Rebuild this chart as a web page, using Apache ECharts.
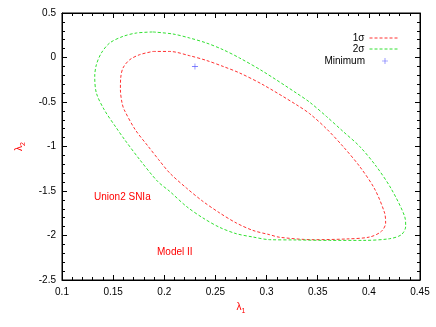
<!DOCTYPE html>
<html>
<head>
<meta charset="utf-8">
<script src="https://cdn.jsdelivr.net/npm/echarts@6/dist/echarts.min.js"></script>
<style>
  html, body { margin: 0; padding: 0; background: #fff; }
  #chart { width: 436px; height: 327px; }
</style>
</head>
<body>
<div id="chart"></div>
<script>
// contour points [lambda1, lambda2]
var sigma1 = [
  [0.1889, 0.068], [0.2053, 0.068], [0.2248, 0.020], [0.2412, -0.033], [0.2574, -0.100],
  [0.2737, -0.174], [0.2965, -0.306], [0.3291, -0.530], [0.3421, -0.631], [0.3585, -0.800],
  [0.3747, -0.999], [0.3910, -1.224], [0.4057, -1.478], [0.4154, -1.747], [0.4164, -1.860],
  [0.4122, -1.954], [0.4008, -2.017], [0.3780, -2.039], [0.3454, -2.047], [0.3128, -2.020],
  [0.3030, -1.991], [0.2867, -1.943], [0.2705, -1.860], [0.2542, -1.747], [0.2378, -1.617],
  [0.2216, -1.466], [0.2053, -1.298], [0.1945, -1.148], [0.1843, -0.999], [0.1716, -0.811],
  [0.1608, -0.587], [0.1587, -0.511], [0.1571, -0.362], [0.1574, -0.230], [0.1596, -0.118],
  [0.1662, -0.025], [0.1760, 0.032], [0.1889, 0.068]
];
var sigma2 = [
  [0.1889, 0.287], [0.2085, 0.264], [0.2248, 0.219], [0.2412, 0.163], [0.2574, 0.088],
  [0.2737, -0.006], [0.2965, -0.156], [0.3291, -0.399], [0.3421, -0.502], [0.3585, -0.662],
  [0.3747, -0.830], [0.3910, -0.999], [0.4073, -1.224], [0.4220, -1.478], [0.4350, -1.785],
  [0.4360, -1.898], [0.4318, -1.991], [0.4203, -2.036], [0.3942, -2.055], [0.3617, -2.055],
  [0.3291, -2.050], [0.3030, -2.047], [0.2867, -2.017], [0.2705, -1.980], [0.2542, -1.909],
  [0.2378, -1.803], [0.2216, -1.673], [0.2053, -1.504], [0.1935, -1.392], [0.1760, -1.148],
  [0.1613, -0.924], [0.1532, -0.792], [0.1413, -0.587], [0.1336, -0.399], [0.1320, -0.212],
  [0.1336, -0.081], [0.1385, 0.051], [0.1466, 0.163], [0.1596, 0.237], [0.1727, 0.275],
  [0.1889, 0.287]
];
var minimum = [[0.23, -0.1]];

var xRange = [0.1, 0.45];
var yRange = [-2.5, 0.5];

var font = 'Liberation Sans, Arial, sans-serif';
var plusIcon = 'path://M4.5,0h1v4.5h4.5v1h-4.5v4.5h-1v-4.5h-4.5v-1h4.5z';

function axisBase(extra) {
  var a = {
    type: 'value',
    axisLine: { show: true, onZero: false, lineStyle: { color: '#000', width: 1 } },
    axisTick: { show: true, inside: true, length: 5, lineStyle: { color: '#000' } },
    minorTick: { show: true, splitNumber: 5, length: 3, lineStyle: { color: '#000' } },
    splitLine: { show: false },
    axisLabel: { color: '#000', fontSize: 10, fontFamily: font }
  };
  for (var k in extra) a[k] = extra[k];
  return a;
}

var legendText = { fontSize: 10, color: '#000', fontFamily: font };

var chart = echarts.init(document.getElementById('chart'));
chart.setOption({
  animation: false,
  textStyle: { fontFamily: font },
  grid: { left: 62, right: 16, top: 13, bottom: 47, show: true, borderColor: '#000', borderWidth: 1 },
  xAxis: [
    axisBase({
      min: xRange[0], max: xRange[1], interval: 0.05,
      axisLabel: { color: '#000', fontSize: 10, fontFamily: font, margin: 7 },
      name: '{a|λ}{b|1}', nameLocation: 'middle', nameGap: 20,
      nameTextStyle: { rich: { a: { color: '#f00', fontSize: 10 }, b: { color: '#f00', fontSize: 7, padding: [8, 0, 0, 0] } } }
    }),
    axisBase({ min: xRange[0], max: xRange[1], interval: 0.05, position: 'top', axisLabel: { show: false } })
  ],
  yAxis: [
    axisBase({
      min: yRange[0], max: yRange[1], interval: 0.5,
      axisLabel: { color: '#000', fontSize: 10, fontFamily: font, margin: 6 },
      name: '{a|λ}{b|2}', nameLocation: 'middle', nameGap: 35,
      nameTextStyle: { rich: { a: { color: '#f00', fontSize: 10 }, b: { color: '#f00', fontSize: 7, padding: [8, 0, 0, 0] } } }
    }),
    axisBase({ min: yRange[0], max: yRange[1], interval: 0.5, position: 'right', axisLabel: { show: false } })
  ],
  legend: [
    { data: ['1σ'], right: 32, top: 28, align: 'right', itemWidth: 29, itemHeight: 8, itemGap: 0,
      itemStyle: { opacity: 0 }, lineStyle: { width: 1, type: [3, 2] }, textStyle: legendText },
    { data: ['2σ'], right: 32, top: 39, align: 'right', itemWidth: 29, itemHeight: 8, itemGap: 0,
      itemStyle: { opacity: 0 }, lineStyle: { width: 1, type: [3, 2] }, textStyle: legendText },
    { data: [{ name: 'Minimum', icon: plusIcon }], right: 43, top: 51, align: 'right', itemWidth: 6, itemHeight: 6, itemGap: 0,
      textStyle: { fontSize: 10, color: '#000', fontFamily: font, padding: [0, 12, 0, 0] } }
  ],
  series: [
    { name: '1σ', type: 'line', data: sigma1, smooth: 0.3, symbol: 'none', color: '#ff3030',
      lineStyle: { width: 1, type: [3, 2], color: '#ff3030' } },
    { name: '2σ', type: 'line', data: sigma2, smooth: 0.3, symbol: 'none', color: '#30e030',
      lineStyle: { width: 1, type: [3, 2], color: '#30e030' } },
    { name: 'Minimum', type: 'scatter', data: minimum, symbol: plusIcon, symbolSize: 6, color: '#3030ff' }
  ],
  graphic: [
    { type: 'text', left: 94, top: 192, style: { text: 'Union2 SNIa', fill: '#f00', fontSize: 10, fontFamily: font } },
    { type: 'text', left: 157, top: 247, style: { text: 'Model II', fill: '#f00', fontSize: 10, fontFamily: font } }
  ]
});
</script>
</body>
</html>
